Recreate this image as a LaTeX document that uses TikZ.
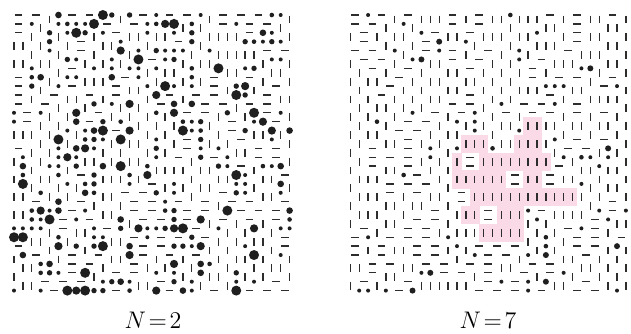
\documentclass[tikz,border=0pt]{standalone}
\usepackage{xcolor}
\usepackage{tikz}
\usetikzlibrary{calc}
\definecolor{dimergray}{RGB}{45,45,45}
\definecolor{domainpink}{RGB}{249,218,230}

\newcommand{\pitch}{8.89}
\newcommand{\markcov}[3]{\expandafter\gdef\csname cov#1@#2@#3\endcsname{}}

% random monomer/dimer filling of a 32x32 lattice
\newcommand{\dimergrid}[4]{%
  \foreach \j in {0,...,31}{%
    \foreach \i in {0,...,31}{%
      \ifcsname cov#1@\i @\j\endcsname\else
        \pgfmathtruncatemacro\ii{\i+1}%
        \pgfmathtruncatemacro\jj{\j+1}%
        \pgfmathrandominteger{\rr}{1}{100}%
        \def\canH{0}\ifnum\i<31 \ifcsname cov#1@\ii @\j\endcsname\else\def\canH{1}\fi\fi
        \def\canV{0}\ifnum\j<31 \ifcsname cov#1@\i @\jj\endcsname\else\def\canV{1}\fi\fi
        \def\kind{M}%
        \ifnum\rr>#3
          \ifodd\rr
            \if1\canH\def\kind{H}\else\if1\canV\def\kind{V}\fi\fi
          \else
            \if1\canV\def\kind{V}\else\if1\canH\def\kind{H}\fi\fi
          \fi
        \fi
        \if H\kind
          \draw[dimer] ({#2+(\i+0.5)*\pitch},{15+\j*\pitch}) ++(-3.9,0) -- ++(7.8,0);
          \markcov{#1}{\ii}{\j}%
        \fi
        \if V\kind
          \draw[dimer] ({#2+\i*\pitch},{15+(\j+0.5)*\pitch}) ++(0,-3.9) -- ++(0,7.8);
          \markcov{#1}{\i}{\jj}%
        \fi
        \if M\kind
          \pgfmathrandomitem{\rad}{#4}%
          \fill[monomer] ({#2+\i*\pitch},{15+\j*\pitch}) circle[radius={\rad*0.5pt}];
        \fi
      \fi
    }%
  }%
}

% fixed horizontal dimer (grid tag, x offset, column, row)
\newcommand{\hdimer}[4]{%
  \draw[dimer] ({#2+(#3+0.5)*\pitch},{15+#4*\pitch}) ++(-3.9,0) -- ++(7.8,0);
  \markcov{#1}{#3}{#4}%
  \pgfmathtruncatemacro\ii{#3+1}%
  \markcov{#1}{\ii}{#4}%
}

\pgfmathdeclarerandomlist{dotsL}{{2.0}{2.0}{2.0}{2.0}{2.3}{2.7}{2.7}{3.3}{4.1}{5.0}}
\pgfmathdeclarerandomlist{dotsR}{{2.0}{2.0}{2.0}{2.0}{2.0}{2.0}{2.3}{3.0}}

\begin{document}
\begin{tikzpicture}[
    x=0.5pt, y=-0.5pt,
    dimer/.style={draw=dimergray, line width=0.65pt},
    monomer/.style={fill=black!88},
    domaincell/.style={fill=domainpink},
    gridlabel/.style={font=\fontsize{12.5}{15}\selectfont, inner sep=0pt}
]
\useasboundingbox (0,0) rectangle (631,333);
\pgfmathsetseed{2718}

% pink domain of vertical dimers (right lattice)
\foreach \r/\a/\b in {12/20/21, 14/13/15, 14/19/21, 16/12/12, 16/15/22, 18/12/17,
                      18/20/21, 20/14/25, 22/13/14, 22/17/19, 24/15/19}{
  \foreach \c in {\a,...,\b}{
    \fill[domaincell] ({350.3+(\c-0.5)*\pitch-0.3},{15+(\r-0.5)*\pitch-0.3})
        rectangle ++({\pitch+0.6},{2*\pitch+0.6});
  }
}
\foreach \r/\a/\b in {12/20/21, 14/13/15, 14/19/21, 16/12/12, 16/15/22, 18/12/17,
                      18/20/21, 20/14/25, 22/13/14, 22/17/19, 24/15/19}{
  \foreach \c in {\a,...,\b}{
    \draw[dimer] ({350.3+\c*\pitch},{15+(\r+0.5)*\pitch}) ++(0,-3.9) -- ++(0,7.8);
    \pgfmathtruncatemacro\rn{\r+1}
    \markcov{R}{\c}{\r}
    \markcov{R}{\c}{\rn}
  }
}
\hdimer{R}{350.3}{13}{16}
\hdimer{R}{350.3}{13}{17}
\hdimer{R}{350.3}{18}{18}
\hdimer{R}{350.3}{18}{19}
\hdimer{R}{350.3}{12}{20}
\hdimer{R}{350.3}{12}{21}
\hdimer{R}{350.3}{15}{22}
\hdimer{R}{350.3}{15}{23}

\dimergrid{L}{14}{40}{dotsL}
\dimergrid{R}{350.3}{12}{dotsR}

\node[gridlabel] (labelleft) at (153,320) {$N\!=\!2$};
\node[gridlabel] (labelright) at (488,320) {$N\!=\!7$};
\end{tikzpicture}
\end{document}
